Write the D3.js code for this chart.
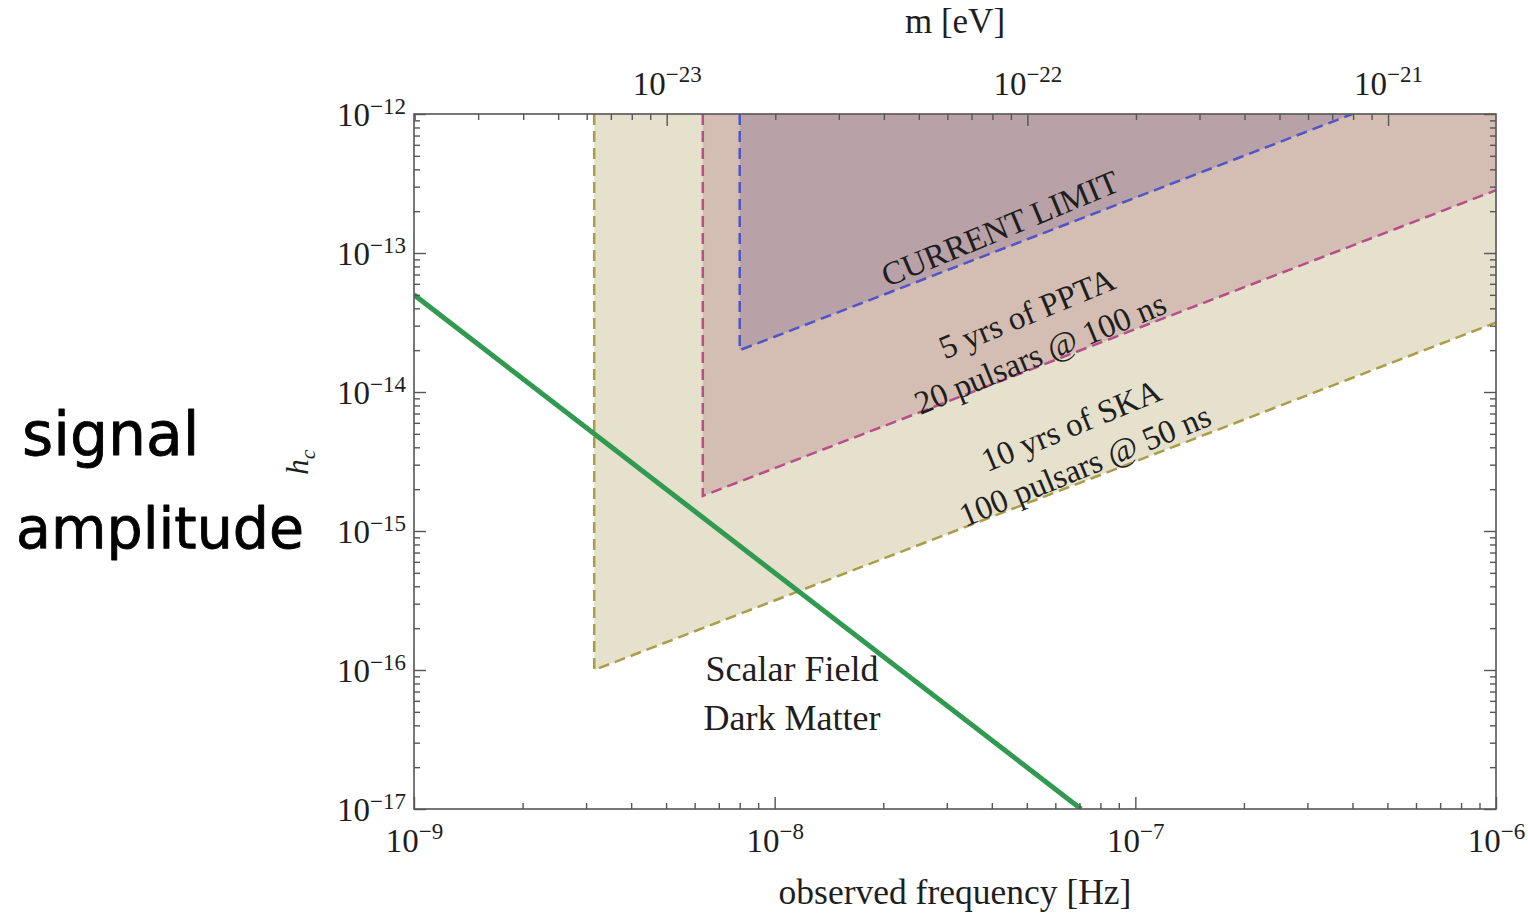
<!DOCTYPE html>
<html>
<head>
<meta charset="utf-8">
<script src="https://cdn.jsdelivr.net/npm/d3@7"></script>
<style>
  body { margin: 0; background: #fff; }
  svg text { font-family: "Liberation Serif", "Times New Roman", serif; fill: #1e1e1e; }
  .hand { font-family: "DejaVu Sans", sans-serif; font-weight: normal; fill: #000; stroke: #000; stroke-width: 0.8; stroke-linejoin: round; }
</style>
</head>
<body>
<svg id="chart" width="1528" height="915"></svg>
<script>
// ---- data ---------------------------------------------------------------
const freqDomain = [1e-9, 1e-6];          // observed frequency [Hz]
const ampDomain = [1e-17, 1e-12];         // characteristic strain h_c
const hzPerEv = 5.02e14;                  // signal frequency per unit boson mass

// sensitivity boundaries (left edge down, then the sloped floor)
const skaBoundary     = [[3.16e-9, 1e-12], [3.16e-9, 1.0e-16], [1e-6, 3.16e-14]];
const pptaBoundary    = [[6.32e-9, 1e-12], [6.32e-9, 1.79e-15], [1e-6, 2.83e-13]];
const currentBoundary = [[8.0e-9, 1e-12], [8.0e-9, 2.0e-14], [4.0e-7, 1e-12]];
// extra corner closing each shaded area along the frame
const skaCorner     = [[1e-6, 1e-12]];
const pptaCorner    = [[1e-6, 1e-12]];
const currentCorner = [];

// scalar field dark matter signal
const scalarSignal = [[1e-9, 5.0e-14], [7.07e-8, 1.0e-17]];

// region labels: [text, freq, amplitude]
const regionLabels = [
  ["CURRENT LIMIT",        4.21e-8, 1.51e-13],
  ["5 yrs of PPTA",        5.00e-8, 3.70e-14],
  ["20 pulsars @ 100 ns",  5.44e-8, 1.91e-14],
  ["10 yrs of SKA",        6.63e-8, 5.79e-15],
  ["100 pulsars @ 50 ns",  7.24e-8, 2.98e-15]
];
const signalLabels = [
  ["Scalar Field", 1.117e-8, 1.03e-16],
  ["Dark Matter",  1.117e-8, 4.59e-17]
];

// ---- layout -------------------------------------------------------------
const plotLeft = 414, plotRight = 1496, plotTop = 114, plotBottom = 809;
const svg = d3.select("#chart");

const x = d3.scaleLog().domain(freqDomain).range([plotLeft, plotRight]);
const y = d3.scaleLog().domain(ampDomain).range([plotBottom, plotTop]);
const xm = d3.scaleLog().domain(freqDomain.map(f => f / hzPerEv)).range([plotLeft, plotRight]);

const colors = {
  skaFill: "#e6e1cd", pptaFill: "#d4beb3", currentFill: "#b9a1a8",
  skaLine: "#ab9d48", pptaLine: "#b84d8a", currentLine: "#4f55c6",
  signal: "#2f9a50", axis: "#555"
};

svg.append("clipPath").attr("id", "plot-clip")
  .append("rect").attr("x", plotLeft).attr("y", plotTop)
  .attr("width", plotRight - plotLeft).attr("height", plotBottom - plotTop);

const plot = svg.append("g").attr("clip-path", "url(#plot-clip)");
const line = d3.line().x(d => x(d[0])).y(d => y(d[1]));

const regions = [
  [skaBoundary, skaCorner, colors.skaFill, colors.skaLine],
  [pptaBoundary, pptaCorner, colors.pptaFill, colors.pptaLine],
  [currentBoundary, currentCorner, colors.currentFill, colors.currentLine]
];
regions.forEach(([b, c, fill]) => {
  plot.append("path").attr("d", line(b.concat(c)) + "Z").attr("fill", fill);
});
regions.forEach(([b, c, fill, stroke]) => {
  plot.append("path").attr("d", line(b)).attr("fill", "none")
    .attr("stroke", stroke).attr("stroke-width", 2.5)
    .attr("stroke-dasharray", "11,6");
});

plot.append("path").attr("d", line(scalarSignal)).attr("fill", "none")
  .attr("stroke", colors.signal).attr("stroke-width", 5);

// region annotations, tilted along the sensitivity floors
regionLabels.forEach(([t, f, h]) => {
  svg.append("text")
    .attr("transform", `translate(${x(f)},${y(h)}) rotate(-22.5)`)
    .attr("text-anchor", "middle").attr("dy", "0.35em")
    .attr("font-size", 33).text(t);
});
signalLabels.forEach(([t, f, h]) => {
  svg.append("text").attr("x", x(f)).attr("y", y(h))
    .attr("text-anchor", "middle").attr("dy", "0.35em")
    .attr("font-size", 36).text(t);
});

// ---- axes ---------------------------------------------------------------
const isMajor = v => Math.abs(Math.log10(v) - Math.round(Math.log10(v))) < 1e-6;
function powerLabel(sel) {
  sel.each(function(v) {
    const e = Math.round(Math.log10(v));
    const t = d3.select(this).text(null).attr("font-size", 33).attr("fill", "#1e1e1e");
    t.append("tspan").text("10");
    t.append("tspan").attr("font-size", 23).attr("dy", "-0.55em").text("\u2212" + Math.abs(e));
  });
}
function styleAxis(g) {
  g.select(".domain").remove();
  g.selectAll(".tick line").attr("stroke", colors.axis).attr("stroke-width", 1.4);
}

const xMinor = x.ticks().filter(v => !isMajor(v));
const xMajor = x.ticks().filter(isMajor);
const yMinor = y.ticks().filter(v => !isMajor(v));
const yMajor = y.ticks().filter(isMajor);
const mAll = xm.ticks();
const mMinor = mAll.filter(v => !isMajor(v));
const mMajor = mAll.filter(isMajor);

// bottom
svg.append("g").attr("transform", `translate(0,${plotBottom})`)
  .call(d3.axisBottom(x).tickValues(xMinor).tickSize(-6).tickFormat("")).call(styleAxis);
svg.append("g").attr("transform", `translate(0,${plotBottom})`)
  .call(d3.axisBottom(x).tickValues(xMajor).tickSize(-12).tickPadding(0))
  .call(styleAxis)
  .call(g => g.selectAll(".tick text").attr("y", 43).attr("dy", 0).call(powerLabel));
// left
svg.append("g").attr("transform", `translate(${plotLeft},0)`)
  .call(d3.axisLeft(y).tickValues(yMinor).tickSize(-6).tickFormat("")).call(styleAxis);
svg.append("g").attr("transform", `translate(${plotLeft},0)`)
  .call(d3.axisLeft(y).tickValues(yMajor).tickSize(-12).tickPadding(8))
  .call(styleAxis)
  .call(g => g.selectAll(".tick text").attr("dy", "0.36em").call(powerLabel));
// right (mirrored ticks)
svg.append("g").attr("transform", `translate(${plotRight},0)`)
  .call(d3.axisRight(y).tickValues(yMinor).tickSize(-6).tickFormat("")).call(styleAxis);
svg.append("g").attr("transform", `translate(${plotRight},0)`)
  .call(d3.axisRight(y).tickValues(yMajor).tickSize(-12).tickFormat("")).call(styleAxis);
// top: boson mass
svg.append("g").attr("transform", `translate(0,${plotTop})`)
  .call(d3.axisTop(xm).tickValues(mMinor).tickSize(-6).tickFormat("")).call(styleAxis);
svg.append("g").attr("transform", `translate(0,${plotTop})`)
  .call(d3.axisTop(xm).tickValues(mMajor).tickSize(-12).tickPadding(0))
  .call(styleAxis)
  .call(g => g.selectAll(".tick text").attr("y", -19).attr("dy", 0).call(powerLabel));

// frame
svg.append("rect").attr("x", plotLeft).attr("y", plotTop)
  .attr("width", plotRight - plotLeft).attr("height", plotBottom - plotTop)
  .attr("fill", "none").attr("stroke", colors.axis).attr("stroke-width", 1.6);

// axis titles
svg.append("text").attr("x", (plotLeft + plotRight) / 2).attr("y", 33)
  .attr("text-anchor", "middle").attr("font-size", 35).text("m [eV]");
svg.append("text").attr("x", (plotLeft + plotRight) / 2).attr("y", 904)
  .attr("text-anchor", "middle").attr("font-size", 35.5).text("observed frequency [Hz]");
const hc = svg.append("text")
  .attr("transform", "translate(308,462) rotate(-90)")
  .attr("text-anchor", "middle").attr("font-size", 31).attr("font-style", "italic");
hc.append("tspan").text("h");
hc.append("tspan").attr("font-size", 22).attr("dy", "0.3em").text("c");

// hand-written note beside the vertical axis
svg.append("text").attr("class", "hand").attr("x", 22).attr("y", 455)
  .attr("font-size", 60).text("signal");
svg.append("text").attr("class", "hand").attr("x", 16).attr("y", 548)
  .attr("font-size", 57).text("amplitude");
</script>
</body>
</html>
